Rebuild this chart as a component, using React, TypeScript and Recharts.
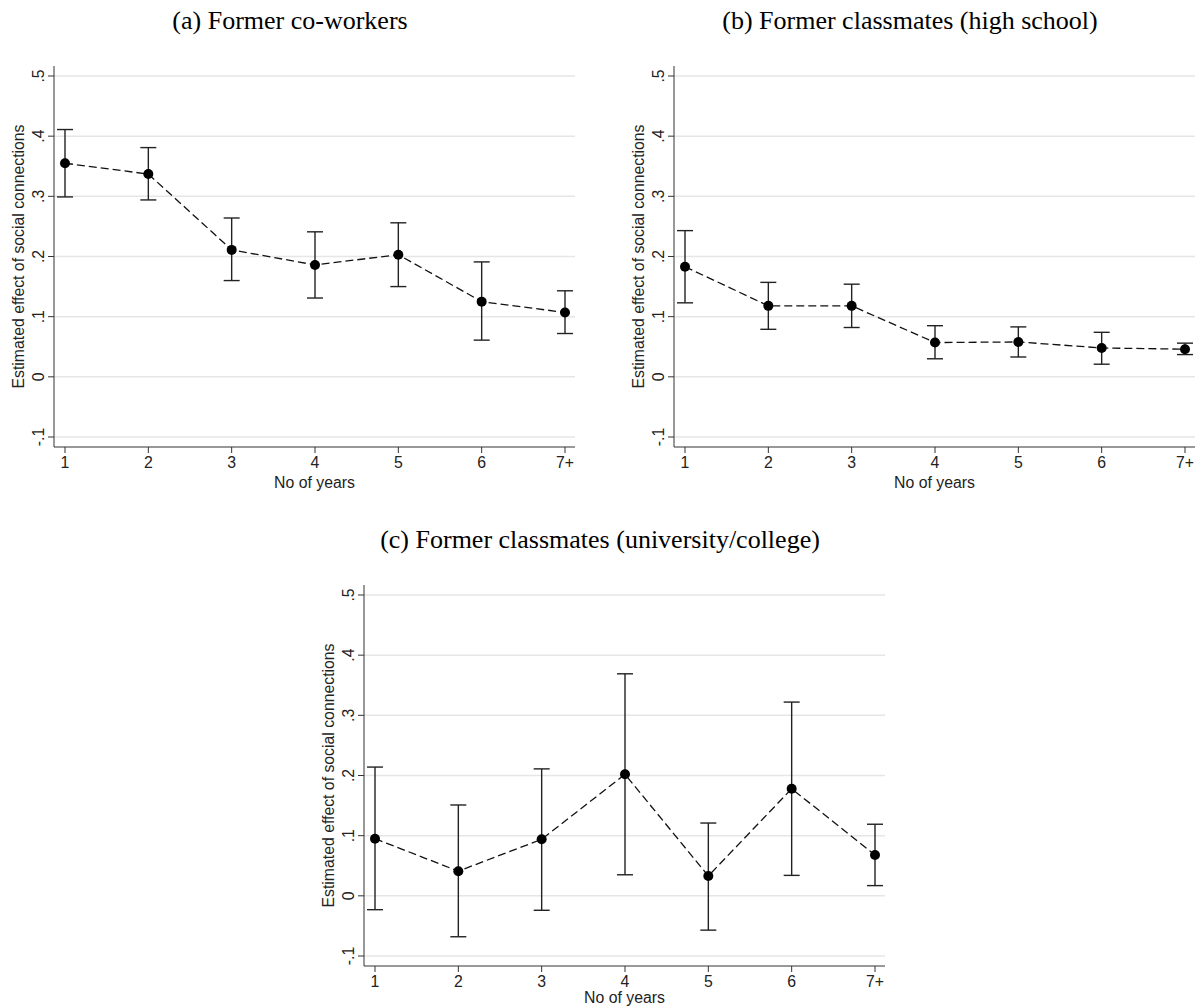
import React from 'react';
import { LineChart, Line, XAxis, YAxis, CartesianGrid, ErrorBar } from 'recharts';

const years = ['1', '2', '3', '4', '5', '6', '7+'];
const yTicks = [-0.1, 0, 0.1, 0.2, 0.3, 0.4, 0.5];

const coworkersEst = [0.355, 0.337, 0.211, 0.186, 0.203, 0.125, 0.107];
const coworkersLo = [0.299, 0.294, 0.160, 0.131, 0.150, 0.061, 0.072];
const coworkersHi = [0.411, 0.381, 0.264, 0.241, 0.256, 0.191, 0.143];

const highschoolEst = [0.183, 0.118, 0.118, 0.057, 0.058, 0.048, 0.046];
const highschoolLo = [0.123, 0.079, 0.082, 0.030, 0.033, 0.021, 0.037];
const highschoolHi = [0.243, 0.157, 0.154, 0.085, 0.083, 0.074, 0.056];

const universityEst = [0.095, 0.041, 0.094, 0.202, 0.033, 0.178, 0.068];
const universityLo = [-0.023, -0.068, -0.024, 0.035, -0.057, 0.034, 0.017];
const universityHi = [0.214, 0.151, 0.211, 0.369, 0.121, 0.322, 0.119];

const titles = [
  '(a) Former co-workers',
  '(b) Former classmates (high school)',
  '(c) Former classmates (university/college)',
];
const xTitle = 'No of years';
const yTitle = 'Estimated effect of social connections';

const SANS = '"Liberation Sans", Arial, Helvetica, sans-serif';
const SERIF = '"Liberation Serif", "Times New Roman", serif';
const FS = 15.8;

const fmt = (v: number) => {
  if (Math.abs(v) < 1e-9) return '0';
  const s = String(Math.round(v * 10) / 10);
  return s.replace('0.', '.');
};

const YTick = (props: any) => {
  const { x, y, payload } = props;
  const bx = x - 4;
  return (
    <text
      x={bx}
      y={y}
      transform={`rotate(-90, ${bx}, ${y})`}
      textAnchor="middle"
      fontSize={FS}
      fontFamily={SANS}
      fill="#222"
    >
      {fmt(payload.value)}
    </text>
  );
};

const makeXLabel = (offset: number) => (props: any) => {
  const { viewBox } = props;
  return (
    <text
      x={viewBox.x + viewBox.width / 2}
      y={viewBox.y + offset}
      textAnchor="middle"
      dominantBaseline="central"
      fontSize={FS}
      fontFamily={SANS}
      fill="#222"
    >
      {xTitle}
    </text>
  );
};

const YLabel = (props: any) => {
  const { viewBox } = props;
  const cx = viewBox.x + 18;
  const cy = viewBox.y + viewBox.height / 2;
  return (
    <text
      x={cx}
      y={cy}
      transform={`rotate(-90, ${cx}, ${cy})`}
      textAnchor="middle"
      dominantBaseline="central"
      fontSize={FS}
      fontFamily={SANS}
      fill="#222"
    >
      {yTitle}
    </text>
  );
};

type PanelProps = {
  title: string;
  est: number[];
  lo: number[];
  hi: number[];
  left: number;
  top: number;
  xLabelOffset: number;
};

const Panel = ({ title, est, lo, hi, left, top, xLabelOffset }: PanelProps) => {
  const data = years.map((year, i) => ({
    year,
    est: est[i],
    err: [est[i] - lo[i], hi[i] - est[i]],
  }));
  const XLabel = makeXLabel(xLabelOffset);
  return (
    <div style={{ position: 'absolute', left, top, width: 579, height: 500 }}>
      <div
        style={{
          position: 'absolute',
          left: 0,
          width: 580,
          top: 6,
          textAlign: 'center',
          fontFamily: SERIF,
          fontSize: 26,
          lineHeight: '30px',
          color: '#000',
          whiteSpace: 'nowrap',
        }}
      >
        {title}
      </div>
      <div style={{ position: 'absolute', left: 0, top: 0 }}>
        <LineChart
          width={579}
          height={500}
          data={data}
          margin={{ top: 66, right: 4, bottom: 3, left: 0 }}
        >
          <CartesianGrid vertical={false} stroke="#e6e6e6" strokeWidth={1.5} horizontalValues={yTicks} />
          <XAxis
            dataKey="year"
            padding={{ left: 11, right: 10 }}
            height={50}
            tickSize={6}
            tickMargin={4}
            stroke="#333"
            tick={{ fontSize: FS, fontFamily: SANS, fill: '#222' }}
            tickLine={{ stroke: '#333' }}
            axisLine={{ stroke: '#333' }}
            interval={0}
            label={<XLabel />}
          />
          <YAxis
            type="number"
            domain={[-0.1166, 0.5166]}
            ticks={yTicks}
            width={54}
            tickSize={6}
            tickMargin={0}
            stroke="#333"
            tick={<YTick />}
            tickLine={{ stroke: '#333' }}
            axisLine={{ stroke: '#333' }}
            interval={0}
            allowDataOverflow
            label={<YLabel />}
          />
          <Line
            dataKey="est"
            type="linear"
            stroke="#111"
            strokeWidth={1.3}
            strokeDasharray="8 4"
            dot={{ r: 5, fill: '#000', stroke: '#000', strokeWidth: 0 }}
            activeDot={false}
            isAnimationActive={false}
          >
            <ErrorBar dataKey="err" direction="y" width={8} stroke="#222" strokeWidth={1.4} isAnimationActive={false} />
          </Line>
        </LineChart>
      </div>
    </div>
  );
};

export default function App() {
  return (
    <div
      style={{
        position: 'absolute',
        left: 0,
        top: 0,
        width: 1199,
        height: 1007,
        background: '#fff',
        overflow: 'hidden',
      }}
    >
      <Panel title={titles[0]} est={coworkersEst} lo={coworkersLo} hi={coworkersHi} left={0} top={0} xLabelOffset={35} />
      <Panel title={titles[1]} est={highschoolEst} lo={highschoolLo} hi={highschoolHi} left={620} top={0} xLabelOffset={35} />
      <Panel title={titles[2]} est={universityEst} lo={universityLo} hi={universityHi} left={310} top={519} xLabelOffset={31} />
    </div>
  );
}
